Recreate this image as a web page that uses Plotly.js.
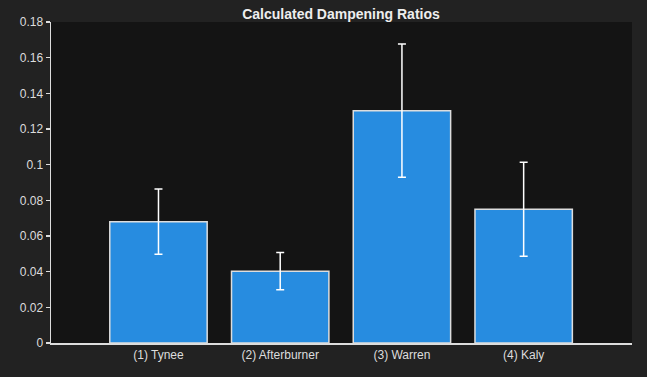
<!DOCTYPE html>
<html>
<head>
<meta charset="utf-8">
<script src="https://cdn.plot.ly/plotly-3.0.1.min.js"></script>
<style>html,body{margin:0;padding:0;background:#222222;}#chart{width:647px;height:377px;}</style>
</head>
<body>
<div id="chart"></div>
<script>
var categories = ["(1) Tynee", "(2) Afterburner", "(3) Warren", "(4) Kaly"];
var ratios = [0.068, 0.0403, 0.1303, 0.0750];
var errors = [0.0183, 0.0104, 0.0373, 0.0263];
var yTicks = [0, 0.02, 0.04, 0.06, 0.08, 0.1, 0.12, 0.14, 0.16, 0.18];
var yTickText = ["0", "0.02", "0.04", "0.06", "0.08", "0.1", "0.12", "0.14", "0.16", "0.18"];

var trace = {
  type: "bar",
  x: categories,
  y: ratios,
  marker: {color: "#278ce0", line: {color: "#dddddd", width: 1.5}},
  error_y: {type: "data", array: errors, visible: true, color: "#ffffff", thickness: 1.5, width: 4},
  hoverinfo: "none"
};

var layout = {
  width: 647, height: 377,
  paper_bgcolor: "#222222",
  plot_bgcolor: "#141414",
  margin: {l: 51, r: 15, t: 22, b: 34},
  title: {text: "<b>Calculated Dampening Ratios</b>", x: 0.527, xanchor: "center", y: 0.975, yanchor: "top",
          font: {family: "Liberation Sans, Arial, sans-serif", size: 14, color: "#eeeeee"}},
  bargap: 0.2,
  showlegend: false,
  font: {family: "Liberation Sans, Arial, sans-serif", color: "#dddddd", size: 12},
  xaxis: {
    type: "category",
    range: [-0.883, 3.89],
    showline: true, linecolor: "#dddddd", linewidth: 1.5,
    ticks: "", showgrid: false, zeroline: false,
    tickfont: {size: 12, color: "#dddddd"}
  },
  yaxis: {
    range: [0, 0.18],
    tickvals: yTicks, ticktext: yTickText,
    showline: true, linecolor: "#dddddd", linewidth: 1.5,
    ticks: "outside", ticklen: 4, tickcolor: "#dddddd", tickwidth: 1.5,
    showgrid: false, zeroline: false,
    tickfont: {size: 12, color: "#dddddd"}
  }
};

Plotly.newPlot("chart", [trace], layout, {displayModeBar: false, staticPlot: true});
</script>
</body>
</html>
